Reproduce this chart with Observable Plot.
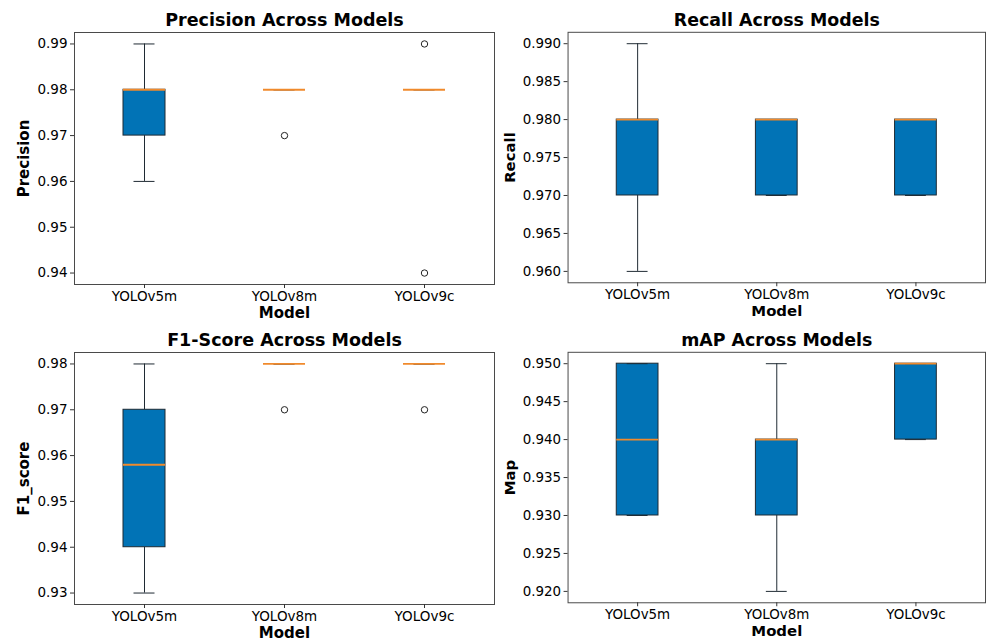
<!DOCTYPE html>
<html>
<head>
<meta charset="utf-8">
<script src="https://cdn.jsdelivr.net/npm/d3@7"></script>
<script src="https://cdn.jsdelivr.net/npm/@observablehq/plot@0.6"></script>
<style>
  html, body { margin: 0; padding: 0; background: #fff; }
  body { width: 987px; height: 641px; overflow: hidden; position: relative; font-family: "DejaVu Sans", sans-serif; }
  .panel { position: absolute; }
  .panel svg { overflow: visible; }
</style>
</head>
<body>
<div id="tl" class="panel" style="left:0px;top:0px"></div>
<div id="tr" class="panel" style="left:494px;top:0px"></div>
<div id="bl" class="panel" style="left:0px;top:320px"></div>
<div id="br" class="panel" style="left:494px;top:320px"></div>
<script>
// ---- Data ----
const models = ["YOLOv5m", "YOLOv8m", "YOLOv9c"];

// Precision
const precisionWhiskerLow  = [0.96, 0.98, 0.98];
const precisionQ1          = [0.97, 0.98, 0.98];
const precisionMedian      = [0.98, 0.98, 0.98];
const precisionQ3          = [0.98, 0.98, 0.98];
const precisionWhiskerHigh = [0.99, 0.98, 0.98];
const precisionOutliers    = [[], [0.97], [0.99, 0.94]];
const precisionTicks       = [0.94, 0.95, 0.96, 0.97, 0.98, 0.99];

// Recall
const recallWhiskerLow  = [0.96, 0.97, 0.97];
const recallQ1          = [0.97, 0.97, 0.97];
const recallMedian      = [0.98, 0.98, 0.98];
const recallQ3          = [0.98, 0.98, 0.98];
const recallWhiskerHigh = [0.99, 0.98, 0.98];
const recallOutliers    = [[], [], []];
const recallTicks       = [0.960, 0.965, 0.970, 0.975, 0.980, 0.985, 0.990];

// F1-score
const f1WhiskerLow  = [0.93, 0.98, 0.98];
const f1Q1          = [0.94, 0.98, 0.98];
const f1Median      = [0.958, 0.98, 0.98];
const f1Q3          = [0.97, 0.98, 0.98];
const f1WhiskerHigh = [0.98, 0.98, 0.98];
const f1Outliers    = [[], [0.97], [0.97]];
const f1Ticks       = [0.93, 0.94, 0.95, 0.96, 0.97, 0.98];

// mAP
const mapWhiskerLow  = [0.93, 0.92, 0.94];
const mapQ1          = [0.93, 0.93, 0.94];
const mapMedian      = [0.94, 0.94, 0.95];
const mapQ3          = [0.95, 0.94, 0.95];
const mapWhiskerHigh = [0.95, 0.95, 0.95];
const mapOutliers    = [[], [], []];
const mapTicks       = [0.920, 0.925, 0.930, 0.935, 0.940, 0.945, 0.950];

// ---- Styles ----
const FONT = "DejaVu Sans, sans-serif";
const BOX_FILL = "#0173b6";
const EDGE = "#1f2a33";
const MEDIAN = "#f08a2c";

function buildTable(lo, q1, med, q3, hi) {
  return models.map((m, i) => ({model: m, lo: lo[i], q1: q1[i], med: med[i], q3: q3[i], hi: hi[i]}));
}
function buildOutliers(out) {
  const rows = [];
  out.forEach((arr, i) => arr.forEach(v => rows.push({model: models[i], value: v})));
  return rows;
}

function panel({title, ylabel, ticks, decimals, lo, q1, med, q3, hi, out, ylabelDx, width}) {
  const rows = buildTable(lo, q1, med, q3, hi);
  const outs = buildOutliers(out);
  const all = [...lo, ...hi, ...out.flat()];
  const mn = d3.min(all), mx = d3.max(all), pad = (mx - mn) * 0.05;
  return Plot.plot({
    width: width,
    height: 320,
    marginLeft: 74,
    marginRight: width - 74 - 420,
    marginTop: 32,
    marginBottom: 36,
    style: {fontFamily: FONT, fontSize: "13.5px", color: "#000", background: "transparent"},
    x: {type: "band", domain: models, paddingInner: 0.7, paddingOuter: 0.35, label: null},
    y: {domain: [mn - pad, mx + pad], label: null},
    marks: [
      Plot.frame({stroke: "#4a4a4a", strokeWidth: 1}),
      Plot.axisY({ticks: ticks, tickFormat: d3.format(`.${decimals}f`), tickSize: 4, tickPadding: 3, label: null, stroke: "#333", fontSize: 13.5}),
      Plot.axisX({tickSize: 4, tickPadding: 3, label: null, stroke: "#333", fontSize: 13.5}),
      // whiskers
      Plot.ruleX(rows, {x: "model", y1: "lo", y2: "q1", stroke: EDGE, strokeWidth: 1}),
      Plot.ruleX(rows, {x: "model", y1: "q3", y2: "hi", stroke: EDGE, strokeWidth: 1}),
      // boxes
      Plot.barY(rows, {x: "model", y1: "q1", y2: "q3", fill: BOX_FILL, stroke: EDGE, strokeWidth: 1}),
      // caps
      Plot.tickY(rows, {x: "model", y: "lo", stroke: EDGE, strokeWidth: 1, insetLeft: 10.5, insetRight: 10.5}),
      Plot.tickY(rows, {x: "model", y: "hi", stroke: EDGE, strokeWidth: 1, insetLeft: 10.5, insetRight: 10.5}),
      // medians
      Plot.tickY(rows, {x: "model", y: "med", stroke: MEDIAN, strokeWidth: 1.8}),
      // outliers
      Plot.dot(outs, {x: "model", y: "value", r: 3.2, stroke: "#222", strokeWidth: 1, fill: "none"}),
      // title
      Plot.text([title], {frameAnchor: "top", lineAnchor: "middle", textAnchor: "middle", dy: -12, fontSize: 17.5, fontWeight: "bold", fill: "#000"}),
      // y label
      Plot.text([ylabel], {frameAnchor: "left", lineAnchor: "middle", textAnchor: "middle", dx: ylabelDx, rotate: -90, fontSize: 15, fontWeight: "bold", fill: "#000"}),
      // x label
      Plot.text(["Model"], {frameAnchor: "bottom", lineAnchor: "middle", textAnchor: "middle", dy: 29, fontSize: 15, fontWeight: "bold", fill: "#000"})
    ]
  });
}

document.getElementById("tl").append(panel({
  title: "Precision Across Models", ylabel: "Precision", ticks: precisionTicks, decimals: 2,
  lo: precisionWhiskerLow, q1: precisionQ1, med: precisionMedian, q3: precisionQ3, hi: precisionWhiskerHigh,
  out: precisionOutliers, ylabelDx: -50, width: 495
}));
document.getElementById("tr").append(panel({
  title: "Recall Across Models", ylabel: "Recall", ticks: recallTicks, decimals: 3,
  lo: recallWhiskerLow, q1: recallQ1, med: recallMedian, q3: recallQ3, hi: recallWhiskerHigh,
  out: recallOutliers, ylabelDx: -58.5, width: 496
}));
document.getElementById("bl").append(panel({
  title: "F1-Score Across Models", ylabel: "F1_score", ticks: f1Ticks, decimals: 2,
  lo: f1WhiskerLow, q1: f1Q1, med: f1Median, q3: f1Q3, hi: f1WhiskerHigh,
  out: f1Outliers, ylabelDx: -50, width: 495
}));
document.getElementById("br").append(panel({
  title: "mAP Across Models", ylabel: "Map", ticks: mapTicks, decimals: 3,
  lo: mapWhiskerLow, q1: mapQ1, med: mapMedian, q3: mapQ3, hi: mapWhiskerHigh,
  out: mapOutliers, ylabelDx: -58, width: 496
}));
</script>
</body>
</html>
